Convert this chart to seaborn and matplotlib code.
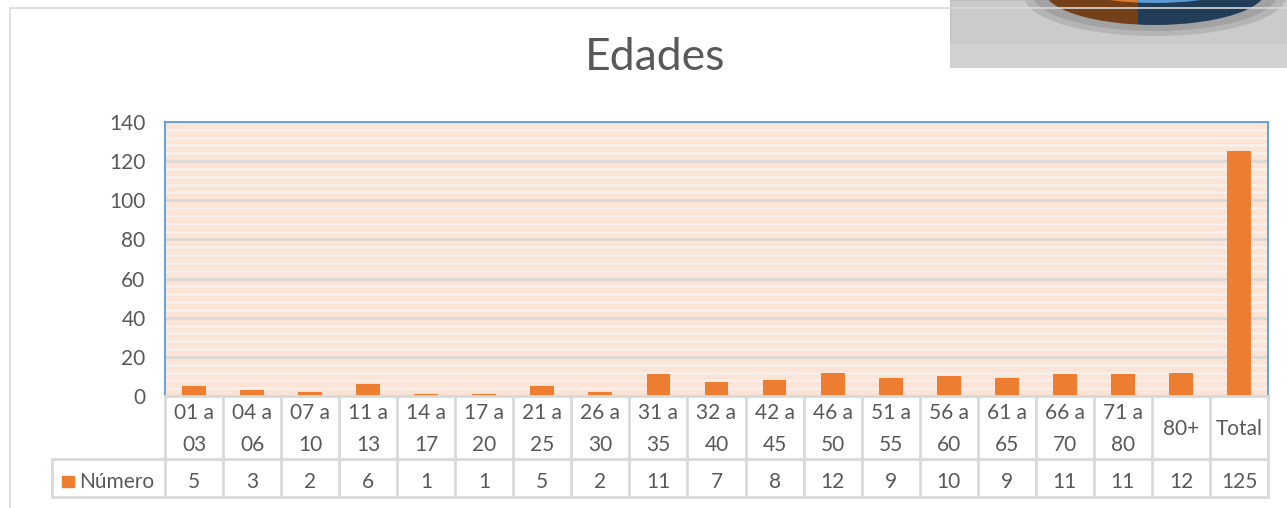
import matplotlib
matplotlib.use("Agg")
import matplotlib.pyplot as plt
import matplotlib.transforms as mtransforms
from matplotlib.patches import Rectangle, Ellipse
import seaborn as sns
import pandas as pd

# ---- data ----
categories = ["01 a\n03", "04 a\n06", "07 a\n10", "11 a\n13", "14 a\n17", "17 a\n20",
              "21 a\n25", "26 a\n30", "31 a\n35", "32 a\n40", "42 a\n45", "46 a\n50",
              "51 a\n55", "56 a\n60", "61 a\n65", "66 a\n70", "71 a\n80", "80+", "Total"]
numero = [5, 3, 2, 6, 1, 1, 5, 2, 11, 7, 8, 12, 9, 10, 9, 11, 11, 12, 125]
series_name = "Número"
title = "Edades"
y_ticks = [0, 20, 40, 60, 80, 100, 120, 140]

sns.set_theme(style="white")
plt.rcParams['font.family'] = ['Lato', 'DejaVu Sans']

TXT = "#595959"
GRID = "#D9D9D9"
BAR = "#ED7D31"
FS = 15

W, H = 1287, 508
fig = plt.figure(figsize=(W / 100, H / 100), dpi=100)

def fx(px):
    return px / W

def fy(py):
    return 1 - py / H

L, R, T, B = 165, 1268, 122, 396
ax = fig.add_axes([fx(L), fy(B), fx(R) - fx(L), fy(T) - fy(B)])

df = pd.DataFrame({"cat": categories, "val": numero})
ax.set_facecolor("#FBE4D5")
# stripes every 4 units, major gridlines every 20
for v in range(4, 140, 4):
    if v % 20 != 0:
        ax.axhline(v, color="#F5F0ED", lw=1.8, zorder=0)
for v in y_ticks[1:-1]:
    ax.axhline(v, color=GRID, lw=1.8, zorder=0.5)

sns.barplot(data=df, x="cat", y="val", color=BAR, saturation=1, width=0.41, ax=ax,
            zorder=2, linewidth=0, edgecolor="none")

ax.set_ylim(0, 140)
ax.set_xlim(-0.5, len(categories) - 0.5)
ax.set_yticks(y_ticks)
ax.set_yticklabels([str(t) for t in y_ticks], fontsize=FS, color=TXT)
ax.tick_params(axis="y", length=0, pad=14)
ax.set_xticks([])
ax.set_xlabel("")
ax.set_ylabel("")
for s in ["top", "left", "right"]:
    ax.spines[s].set_color("#5B9BD5")
    ax.spines[s].set_linewidth(1.3)
ax.spines["bottom"].set_color(GRID)
ax.spines["bottom"].set_linewidth(2)

# ---- data table ----
trans = mtransforms.blended_transform_factory(ax.transData, ax.transAxes)
ah = B - T

def ay(py):
    return (B - py) / ah

row1_top, row1_bot, row2_bot = 396, 459, 497
n = len(categories)
for i in range(n + 1):
    ax.plot([i - 0.5, i - 0.5], [ay(row1_top), ay(row2_bot)], transform=trans,
            color=GRID, lw=2, clip_on=False, zorder=3)
xl = (52 - L) / (R - L)
for py in [row1_bot, row2_bot]:
    ax.plot([xl, 1.0], [ay(py), ay(py)], transform=ax.transAxes, color=GRID, lw=2,
            clip_on=False, zorder=3)
ax.plot([xl, xl], [ay(row1_bot), ay(row2_bot)], transform=ax.transAxes, color=GRID,
        lw=2, clip_on=False, zorder=3)

for i, (c, v) in enumerate(zip(categories, numero)):
    ax.text(i, ay(429), c, transform=trans, ha="center",
            va="center", fontsize=FS, color=TXT, linespacing=1.75)
    ax.text(i, ay(482), str(v), transform=trans, ha="center",
            va="center", fontsize=FS, color=TXT)

# legend key in table
ax.add_patch(Rectangle(((62 - L) / (R - L), ay(487)), 12 / (R - L), 11 / ah,
                       transform=ax.transAxes, color=BAR, clip_on=False, zorder=3))
ax.text((79 - L) / (R - L), ay(482), series_name, transform=ax.transAxes, ha="left",
        va="center", fontsize=FS, color=TXT)

# title
fig.text(fx(655), fy(58), title, ha="center", va="center", fontsize=32, color=TXT,
         fontweight="normal")

# chart area border
fig.add_artist(plt.Line2D([fx(10), fx(1287)], [fy(8), fy(8)], color=GRID, lw=1.2))
fig.add_artist(plt.Line2D([fx(10), fx(10)], [fy(8), fy(508)], color=GRID, lw=1.2))

# overlaid picture (cropped pie image) in top right corner
pic = fig.add_axes([fx(950), fy(68), fx(1287) - fx(950), fy(0) - fy(68)])
pic.set_xlim(0, 337)
pic.set_ylim(68, 0)
pic.axis("off")
pic.add_patch(Rectangle((0, 0), 337, 68, facecolor="#CBCBCB", edgecolor="#C0C0C0", lw=1))
pic.add_patch(Rectangle((0, 44), 337, 24, facecolor="#D2D2D2", edgecolor="none"))
pic.add_patch(Ellipse((205, -4), 262, 80, facecolor="#B5B5B5", edgecolor="none"))
pic.add_patch(Ellipse((205, -6), 245, 74, facecolor="#A2A2A2", edgecolor="none"))
clip = Ellipse((205, -10), 222, 70, transform=pic.transData)
left = Rectangle((80, -50), 108, 80, facecolor="#74401A", edgecolor="none")
right = Rectangle((188, -50), 140, 80, facecolor="#223D57", edgecolor="none")
pic.add_patch(left)
pic.add_patch(right)
left.set_clip_path(clip)
right.set_clip_path(clip)
top_clip = Ellipse((205, -30), 222, 66, transform=pic.transData)
lb = Rectangle((80, -50), 108, 80, facecolor="#E07A2E", edgecolor="none")
rb = Rectangle((188, -50), 140, 80, facecolor="#5B9BD5", edgecolor="none")
pic.add_patch(lb)
pic.add_patch(rb)
lb.set_clip_path(top_clip)
rb.set_clip_path(top_clip)

fig.savefig("out.png", dpi=100, facecolor="white")
